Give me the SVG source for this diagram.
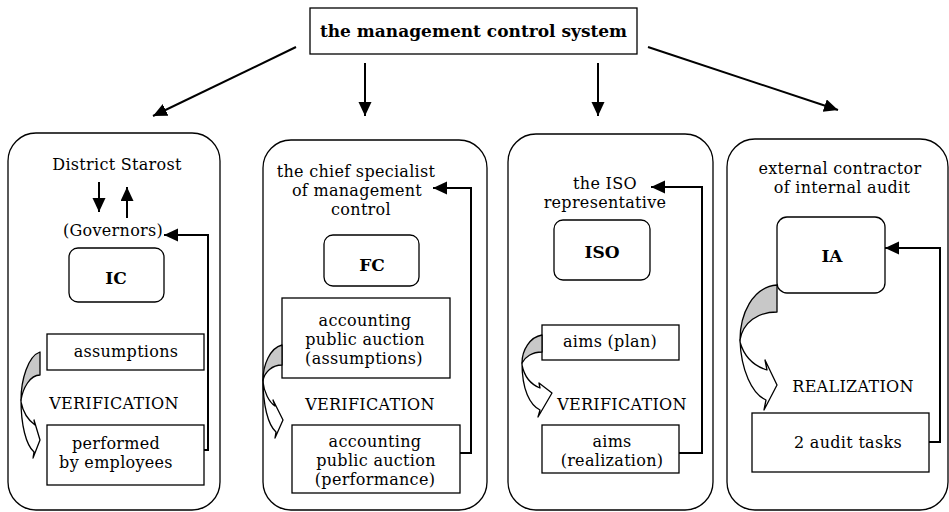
<svg xmlns="http://www.w3.org/2000/svg" width="949" height="512" viewBox="0 0 949 512">
<style>
text{font-family:"DejaVu Serif","Liberation Serif",serif;font-size:16px;letter-spacing:0.3px;fill:#000;text-anchor:middle}
.b{font-weight:bold;font-size:17px;letter-spacing:0}
.panel{fill:#fff;stroke:#000;stroke-width:1.3}
.box{fill:#fff;stroke:#000;stroke-width:1.3}
.con{fill:none;stroke:#000;stroke-width:2}
.arr{marker-end:url(#ah)}
.back{fill:#c8c8c8;stroke:#000;stroke-width:1.3;stroke-linejoin:round}
.front{fill:#fff;stroke:#000;stroke-width:1.3;stroke-linejoin:round}
</style>
<defs>
<marker id="ah" markerUnits="userSpaceOnUse" markerWidth="15" markerHeight="14" refX="14" refY="6.5" orient="auto">
<path d="M0,0 L14,6.5 L0,13 Z" fill="#000"/>
</marker>
</defs>
<rect width="949" height="512" fill="#fff"/>

<g id="top">
<rect class="box" x="310" y="8" width="327" height="46"/>
<text class="b" x="473.5" y="37">the management control system</text>
</g>

<g id="panel1">
<rect class="panel" x="8" y="133" width="212" height="377" rx="28"/>
<text x="117" y="170">District Starost</text>
<text x="113" y="236">(Governors)</text>
<rect class="box" x="69" y="248" width="95" height="54" rx="9"/>
<text class="b" x="116" y="284">IC</text>
<rect class="box" x="47" y="334" width="157" height="36"/>
<text x="126" y="357">assumptions</text>
<text x="114" y="409">VERIFICATION</text>
<rect class="box" x="47" y="425" width="157" height="60"/>
<text x="116" y="449">performed</text>
<text x="116" y="468">by employees</text>
<path class="back" d="M40,352 C28,356 21,380 21,400 C23,388 30,375 40,375 Z"/>
<path class="front" d="M21,400 C21,425 26,445 34,452 L33,458 L40,440 L34,420 L35,425 C28,420 23,412 21,402 Z"/>
</g>

<g id="panel2">
<rect class="panel" x="263" y="140" width="224" height="370" rx="28"/>
<text x="356" y="177">the chief specialist</text>
<text x="357" y="196">of management</text>
<text x="361" y="215">control</text>
<rect class="box" x="324" y="235" width="95" height="51" rx="9"/>
<text class="b" x="372" y="271">FC</text>
<rect class="box" x="282" y="298" width="168" height="80"/>
<text x="365" y="326">accounting</text>
<text x="365" y="345">public auction</text>
<text x="364" y="364">(assumptions)</text>
<text x="370" y="410">VERIFICATION</text>
<rect class="box" x="292" y="425" width="168" height="68"/>
<text x="375" y="447">accounting</text>
<text x="376" y="466">public auction</text>
<text x="375" y="485">(performance)</text>
<path class="back" d="M282,345 C270,348 263,365 263,380 C265,372 272,365 282,365 Z"/>
<path class="front" d="M263,380 C263,405 268,425 276,432 L275,438 L283,420 L273,400 L275,406 C269,402 264,392 263,382 Z"/>
</g>

<g id="panel3">
<rect class="panel" x="508" y="134" width="205" height="376" rx="28"/>
<text x="605" y="189">the ISO</text>
<text x="605" y="208">representative</text>
<rect class="box" x="554" y="220" width="96" height="60" rx="9"/>
<text class="b" x="602" y="258">ISO</text>
<rect class="box" x="542" y="325" width="137" height="35"/>
<text x="610" y="347">aims (plan)</text>
<text x="622" y="410">VERIFICATION</text>
<rect class="box" x="542" y="425" width="137" height="48"/>
<text x="612" y="447">aims</text>
<text x="612" y="466">(realization)</text>
<path class="back" d="M542,335 C530,337 522,350 522,363 C525,357 532,352 542,352 Z"/>
<path class="front" d="M522,363 C522,390 530,405 540,410 L538,417 L552,393 L539,383 L540,388 C530,384 524,375 522,365 Z"/>
</g>

<g id="panel4">
<rect class="panel" x="727" y="139" width="221" height="371" rx="28"/>
<text x="840" y="174">external contractor</text>
<text x="842" y="193">of internal audit</text>
<rect class="box" x="777" y="217" width="108" height="76" rx="10"/>
<text class="b" x="832" y="262">IA</text>
<text x="853" y="392">REALIZATION</text>
<rect class="box" x="752" y="413" width="177" height="59"/>
<text x="848" y="448">2 audit tasks</text>
<path class="back" d="M777,285 C752,287 740,315 740,340 C743,322 758,312 777,312 Z"/>
<path class="front" d="M740,340 C741,370 752,394 766,400 L764,410 L777,385 L765,360 L767,370 C754,366 744,356 740,342 Z"/>
</g>

<g id="connectors">
<line class="con arr" x1="296" y1="47" x2="153" y2="116"/>
<line class="con arr" x1="365" y1="63" x2="365" y2="116"/>
<line class="con arr" x1="598" y1="63" x2="598" y2="116"/>
<line class="con arr" x1="648" y1="47" x2="838" y2="110"/>
<line class="con arr" x1="99" y1="182" x2="99" y2="212"/>
<line class="con arr" x1="127" y1="218" x2="127" y2="187"/>
<polyline class="con arr" points="204,450 208,450 208,235 164,235"/>
<polyline class="con arr" points="460,453 471,453 471,188 433,188"/>
<polyline class="con arr" points="679,453 702,453 702,187 651,187"/>
<polyline class="con arr" points="929,442 940,442 940,248 885,248"/>
</g>
</svg>
